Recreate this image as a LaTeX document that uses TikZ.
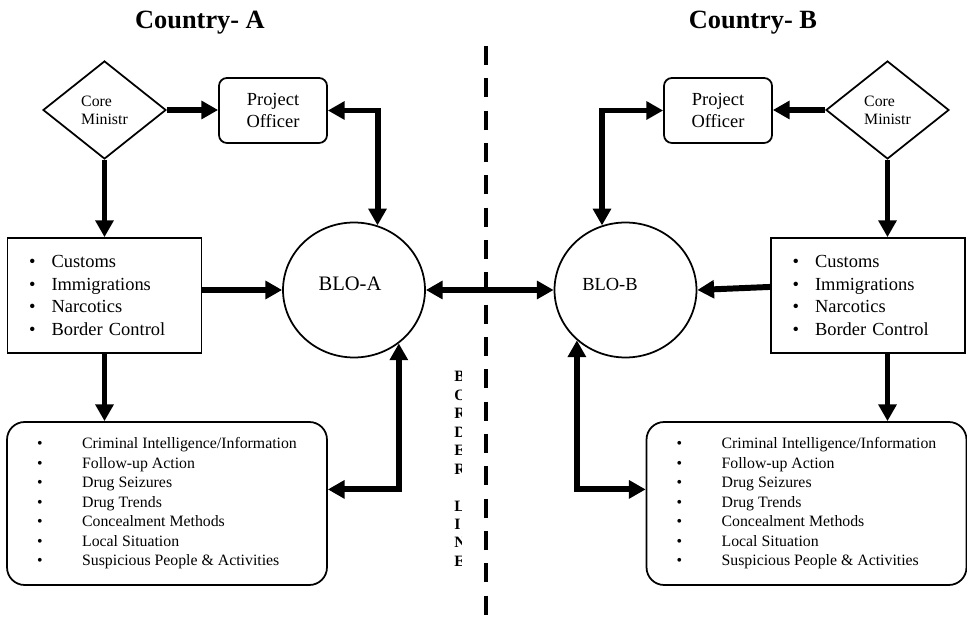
\documentclass[tikz,border=0pt]{standalone}
\usepackage{fontspec}
\setmainfont{Liberation Serif}
\usetikzlibrary{shapes.geometric,arrows.meta}

\newcommand{\agitem}[1]{\makebox[0.45cm][l]{\textbullet}#1}
\newcommand{\infoitem}[1]{\makebox[0.9cm][l]{\textbullet}#1}

\tikzset{
  arr/.style={line width=3.4pt, -{Triangle[length=9.5pt,width=10pt]}},
  dbl/.style={line width=3.4pt, {Triangle[length=9.5pt,width=10pt]}-{Triangle[length=9.5pt,width=10pt]}},
  country/.style={font=\fontsize{15}{18}\selectfont\bfseries},
  ministry/.style={draw, line width=1pt, diamond, minimum width=2.46cm, minimum height=1.96cm, inner sep=0pt, align=left, font=\fontsize{9}{10.2}\selectfont},
  officer/.style={draw, line width=1pt, rounded corners=4.5pt, minimum width=2.16cm, minimum height=1.3cm, align=center, font=\fontsize{10.5}{12}\selectfont},
  blo/.style={draw, line width=1pt, ellipse, minimum width=2.84cm, minimum height=2.7cm, inner sep=0pt},
  agencies/.style={draw, line width=1pt, text width=3.02cm, inner xsep=0.43cm, minimum height=2.3cm, align=left, font=\fontsize{10.5}{12.9}\selectfont},
  infobox/.style={draw, line width=1pt, rounded corners=10pt, minimum width=6.4cm, minimum height=3.26cm, align=left, font=\fontsize{9}{11.1}\selectfont},
  borderword/.style={anchor=west, inner sep=0pt, align=left, font=\fontsize{9}{10.5}\selectfont\bfseries},
}

\begin{document}
\begin{tikzpicture}[x=0.02cm, y=-0.02cm]
    \useasboundingbox (0,0) rectangle (967,617);

    \node[country] (titleA) at (200,23) {Country- A};
    \node[country] (titleB) at (753,23) {Country- B};

    % border line
    \coordinate (borderTop) at (486,46);
    \coordinate (borderBot) at (486,617);
    \draw[line width=2.8pt, dash pattern=on 10.8pt off 7.6pt] (borderTop) -- (borderBot);
    \begin{scope}
        \clip (440,360) rectangle (461,585);
        \node[borderword] (borderTxt) at (454,469) {B\\O\\R\\D\\E\\R\\\mbox{}\\L\\I\\N\\E};
    \end{scope}

    % country A
    \node[ministry] (diaA) at (104.5,110) {Core\\Ministr};
    \node[officer] (poA) at (273,110.5) {Project\\Officer};
    \node[blo] (bloA) at (354,290) {};
    \node[font=\fontsize{11.7}{14}\selectfont] (bloAtxt) at (350,284) {BLO-A};
    \node[agencies] (custA) at (104.5,295.5) {\agitem{Customs}\\\agitem{Immigrations}\\\agitem{Narcotics}\\\agitem{Border Control}};
    \node[infobox] (botA) at (167,503.5) {\infoitem{Criminal Intelligence/Information}\\\infoitem{Follow-up Action}\\\infoitem{Drug Seizures}\\\infoitem{Drug Trends}\\\infoitem{Concealment Methods}\\\infoitem{Local Situation}\\\infoitem{Suspicious People \& Activities}};

    \draw[arr] (diaA.east) -- (poA.west |- diaA.east);
    \draw[dbl] (poA.east) -| (bloA.70);
    \draw[arr] (diaA.south) -- (diaA.south |- custA.north);
    \draw[arr] (custA.east |- bloA.west) -- (bloA.west);
    \draw[arr] (custA.south) -- (custA.south |- botA.north);
    \draw[dbl] (botA.5) -| (bloA.-50);

    % country B
    \node[ministry] (diaB) at (887.5,110) {Core\\Ministr};
    \node[officer] (poB) at (718,110.5) {Project\\Officer};
    \node[blo] (bloB) at (625.5,290) {};
    \node[font=\fontsize{10.5}{13}\selectfont] (bloBtxt) at (610,284) {BLO-B};
    \node[agencies] (custB) at (868,295.5) {\agitem{Customs}\\\agitem{Immigrations}\\\agitem{Narcotics}\\\agitem{Border Control}};
    \node[infobox] (botB) at (806.5,503.5) {\infoitem{Criminal Intelligence/Information}\\\infoitem{Follow-up Action}\\\infoitem{Drug Seizures}\\\infoitem{Drug Trends}\\\infoitem{Concealment Methods}\\\infoitem{Local Situation}\\\infoitem{Suspicious People \& Activities}};

    \draw[arr] (diaB.west) -- (poB.east |- diaB.west);
    \draw[dbl] (poB.west) -| (bloB.110);
    \draw[arr] (diaB.south) -- (diaB.south |- custB.north);
    \draw[arr] (custB.175) -- (bloB.east);
    \draw[arr] (diaB.south |- custB.south) -- (diaB.south |- botB.north);
    \draw[dbl] (bloB.226) |- (botB.175);

    \draw[dbl] (bloA.east) -- (bloB.west);
\end{tikzpicture}
\end{document}
